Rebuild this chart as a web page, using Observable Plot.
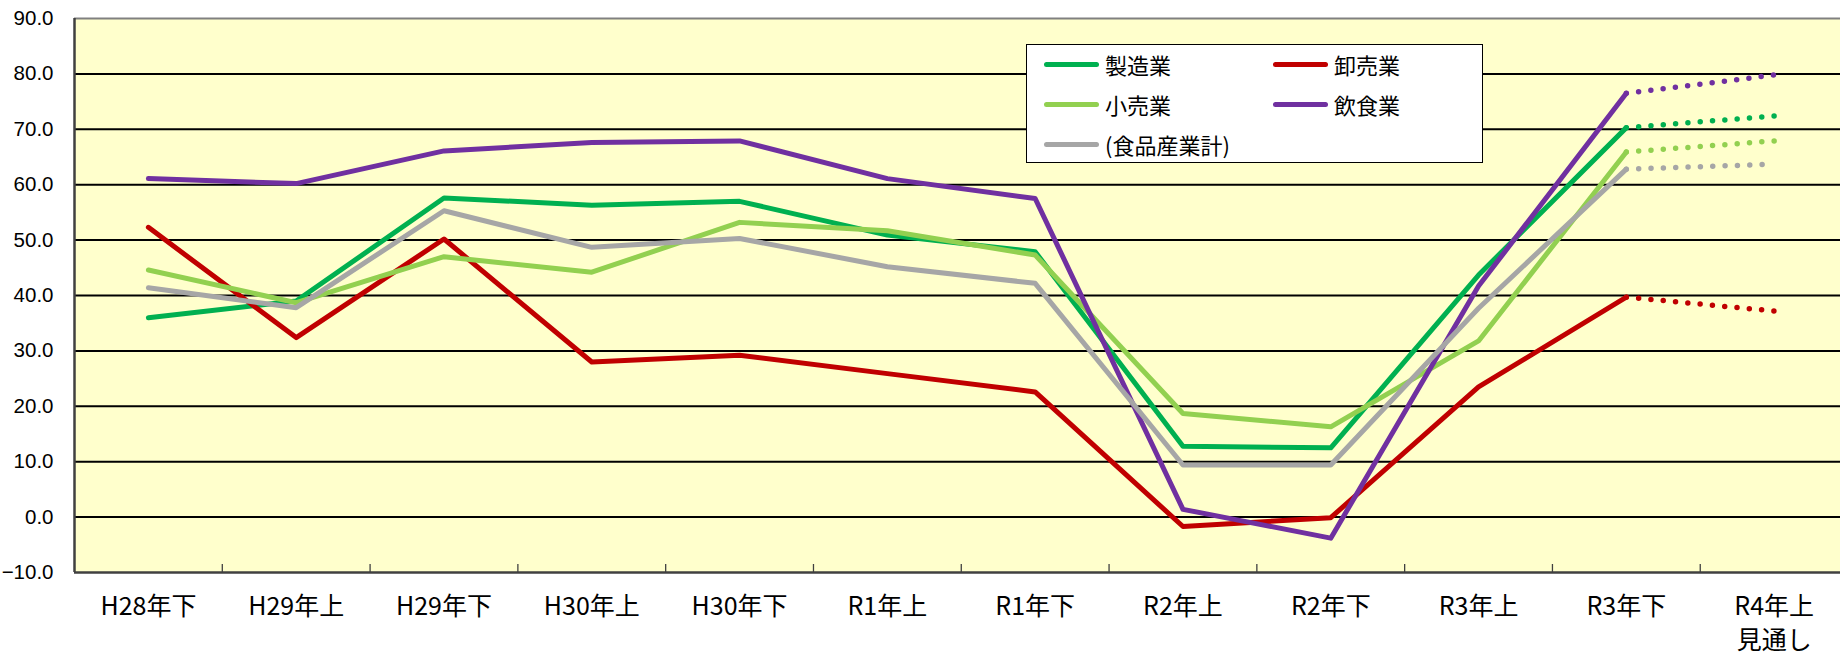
<!DOCTYPE html>
<html>
<head>
<meta charset="utf-8">
<script src="https://cdn.jsdelivr.net/npm/d3@7"></script>
<script src="https://cdn.jsdelivr.net/npm/@observablehq/plot@0.6"></script>
<style>
  html, body { margin: 0; padding: 0; background: #ffffff; }
  #wrap { position: relative; width: 1840px; height: 660px; overflow: hidden; }
  #legend { position: absolute; left: 1026px; top: 44px; width: 455px; height: 117px;
            background: #ffffff; border: 1px solid #000; box-sizing: content-box; }
  .item { position: absolute; display: flex; align-items: center; height: 30px;
          font-family: "Noto Sans CJK JP", sans-serif; font-size: 22px; color: #000; }
  .sw { width: 55px; height: 5px; border-radius: 3px; margin-right: 6px; }
</style>
</head>
<body>
<div id="wrap"><div id="chart"></div><div id="legend"></div></div>
<script>
// ---- data ----
const categories = ["H28年下","H29年上","H29年下","H30年上","H30年下","R1年上","R1年下","R2年上","R2年下","R3年上","R3年下","R4年上\n見通し"];
const seriesNames = ["製造業","卸売業","小売業","飲食業","(食品産業計)"];
const seriesColors = ["#00B050","#C00000","#92D050","#7030A0","#A6A6A6"];
const manufacturing = [36.0, 39.0, 57.6, 56.3, 57.0, 50.9, 47.9, 12.8, 12.5, 43.7, 70.3, 72.4];
const wholesale     = [52.3, 32.4, 50.2, 28.0, 29.2, 25.9, 22.6, -1.7, -0.1, 23.5, 39.7, 37.2];
const retail        = [44.6, 38.7, 47.0, 44.2, 53.2, 51.7, 47.3, 18.7, 16.3, 31.8, 65.9, 67.9];
const restaurants   = [61.1, 60.2, 66.1, 67.6, 67.9, 61.1, 57.5, 1.4, -3.8, 41.7, 76.5, 79.8];
const foodTotal     = [41.4, 37.8, 55.3, 48.7, 50.3, 45.2, 42.2, 9.4, 9.4, 37.7, 62.8, 63.7];
const yTicks = [-10, 0, 10, 20, 30, 40, 50, 60, 70, 80, 90];
const forecastStart = 10; // index of last actual (R3年下); R4年上 is the outlook

// ---- build table ----
const seriesValues = [manufacturing, wholesale, retail, restaurants, foodTotal];
const actual = [], forecast = [];
seriesValues.forEach((vals, s) => {
  vals.forEach((v, i) => {
    const row = {series: seriesNames[s], i, value: v};
    if (i <= forecastStart) actual.push(row);
    if (i >= forecastStart) forecast.push(row);
  });
});
const idx = categories.map((_, i) => i);
const boundaries = categories.slice(1).map((_, i) => i + 0.5);
const gridVals = yTicks.filter(v => v > yTicks[0] && v < yTicks[yTicks.length - 1]);

const chart = Plot.plot({
  width: 1840,
  height: 660,
  marginLeft: 74,
  marginRight: 0,
  marginTop: 18,
  marginBottom: 88,
  style: {background: "transparent", color: "#000", fontFamily: "Liberation Sans, Arial, sans-serif"},
  x: {type: "linear", domain: [-0.5, 11.449], label: null},
  y: {domain: [-10, 90], label: null},
  color: {domain: seriesNames, range: seriesColors},
  marks: [
    Plot.frame({fill: "#FFFFCC", stroke: "none"}),
    Plot.ruleY(gridVals, {y: d => d, stroke: "#000", strokeWidth: 2}),
    Plot.ruleY([yTicks[yTicks.length - 1]], {y: d => d, stroke: "#808080", strokeWidth: 2}),
    Plot.tickX(boundaries, {x: d => d, stroke: "#404040", strokeWidth: 1.3, insetTop: 546}),
    Plot.ruleY([yTicks[0]], {y: d => d, stroke: "#404040", strokeWidth: 2.5}),
    Plot.ruleX([-0.5], {x: d => d, stroke: "#404040", strokeWidth: 2.5}),
    Plot.line(actual, {x: "i", y: "value", z: "series", stroke: "series",
      strokeWidth: 5, strokeLinejoin: "round", strokeLinecap: "round"}),
    Plot.line(forecast, {x: "i", y: "value", z: "series", stroke: "series",
      strokeWidth: 5.5, strokeLinecap: "round", strokeDasharray: "0 12.35"}),
    Plot.axisY({ticks: yTicks, tickSize: 0, tickPadding: 21, tickFormat: d3.format(".1f"),
      label: null, fontSize: 20.5, fontFamily: "Liberation Sans, Arial, sans-serif"}),
    Plot.axisX({ticks: idx, tickSize: 0, tickPadding: 19, tickFormat: i => categories[i],
      label: null, fontSize: 25, lineHeight: 1.35, fontFamily: "Noto Sans CJK JP, sans-serif"})
  ]
});
document.getElementById("chart").appendChild(chart);

// ---- legend (inside plot, as in the original) ----
const legend = document.getElementById("legend");
const pos = [[17, 4], [246, 4], [17, 44], [246, 44], [17, 84]];
seriesNames.forEach((name, s) => {
  const item = document.createElement("div");
  item.className = "item";
  item.style.left = pos[s][0] + "px";
  item.style.top = pos[s][1] + "px";
  const sw = document.createElement("div");
  sw.className = "sw";
  sw.style.background = seriesColors[s];
  const tx = document.createElement("span");
  tx.textContent = name;
  item.appendChild(sw);
  item.appendChild(tx);
  legend.appendChild(item);
});
</script>
</body>
</html>
